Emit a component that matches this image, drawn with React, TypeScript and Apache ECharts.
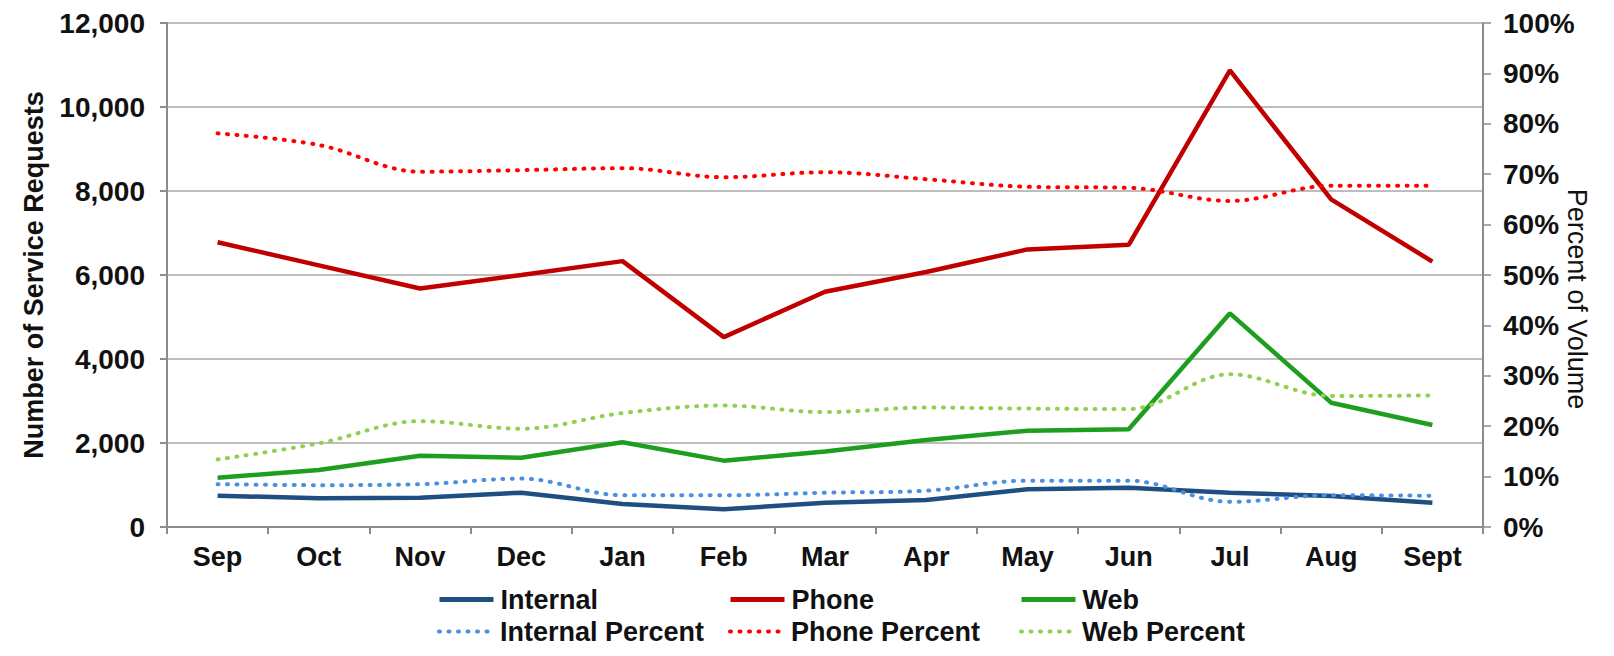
import React, { useEffect, useRef } from "react";
import * as echarts from "echarts";

const months = ["Sep", "Oct", "Nov", "Dec", "Jan", "Feb", "Mar", "Apr", "May", "Jun", "Jul", "Aug", "Sept"];
const countTicks = [0, 2000, 4000, 6000, 8000, 10000, 12000];
const internalCount = [746, 683, 698, 817, 548, 421, 579, 643, 897, 937, 817, 738, 579];
const phoneCount = [6780, 6230, 5680, 6000, 6330, 4520, 5600, 6070, 6610, 6720, 10870, 7800, 6320];
const webCount = [1175, 1357, 1698, 1651, 2016, 1580, 1800, 2071, 2293, 2325, 5087, 2960, 2429];
const internalPct = [8.5, 8.3, 8.5, 9.6, 6.3, 6.3, 6.8, 7.2, 9.2, 9.2, 5.0, 6.3, 6.2];
const phonePct = [78.1, 75.8, 70.5, 70.8, 71.2, 69.4, 70.4, 69.0, 67.5, 67.3, 64.7, 67.7, 67.7];
const webPct = [13.4, 16.6, 21.0, 19.5, 22.6, 24.1, 22.8, 23.7, 23.5, 23.4, 30.3, 26.0, 26.1];

const FONT = "'Liberation Sans', Arial, Helvetica, sans-serif";

export default function App() {
  const ref = useRef<HTMLDivElement>(null);
  useEffect(() => {
    if (!ref.current) return;
    const chart = echarts.init(ref.current, undefined, { renderer: "svg" });
    const solid = (name: string, data: number[], color: string) => ({
      name,
      type: "line",
      data,
      yAxisIndex: 0,
      symbol: "none",
      smooth: false,
      lineStyle: { color, width: 4.5 },
      itemStyle: { color },
    });
    const dotted = (name: string, data: number[], color: string) => ({
      name,
      type: "line",
      data,
      yAxisIndex: 1,
      symbol: "none",
      smooth: 0.35,
      lineStyle: { color, width: 4, type: [1, 8.5], cap: "round" },
      itemStyle: { color },
    });
    const legendItem = (name: string, left: number, top: number, lw: number) => ({
      data: [name],
      left,
      top,
      padding: 0,
      itemWidth: 54,
      itemHeight: 26,
      itemStyle: { opacity: 0 },
      lineStyle: { width: lw },
      textStyle: {
        fontFamily: FONT,
        fontSize: 27,
        fontWeight: "bold",
        color: "#111",
        padding: [0, 0, 0, 2],
      },
    });
    chart.setOption({
      animation: false,
      backgroundColor: "#ffffff",
      textStyle: { fontFamily: FONT },
      grid: { left: 167, right: 131, top: 23, bottom: 129, containLabel: false },
      legend: [
        legendItem("Internal", 437, 586, 5),
        legendItem("Phone", 728, 586, 5),
        legendItem("Web", 1019, 586, 5),
        legendItem("Internal Percent", 437, 618, 4),
        legendItem("Phone Percent", 728, 618, 4),
        legendItem("Web Percent", 1019, 618, 4),
      ],
      graphic: [
        {
          type: "text",
          x: 1577,
          y: 299,
          rotation: -Math.PI / 2,
          style: {
            text: "Percent of Volume",
            fontFamily: FONT,
            fontSize: 27,
            fill: "#111",
            textAlign: "center",
            textVerticalAlign: "middle",
          },
        },
      ],
      xAxis: {
        type: "category",
        data: months,
        boundaryGap: true,
        axisLine: { lineStyle: { color: "#8c8c8c", width: 2 } },
        axisTick: { show: true, length: 7, lineStyle: { color: "#8c8c8c", width: 2 } },
        axisLabel: { fontFamily: FONT, fontSize: 27, fontWeight: "bold", color: "#111", margin: 16 },
      },
      yAxis: [
        {
          type: "value",
          min: countTicks[0],
          max: countTicks[countTicks.length - 1],
          interval: 2000,
          name: "Number of Service Requests",
          nameLocation: "middle",
          nameRotate: 90,
          nameGap: 120,
          nameTextStyle: { fontFamily: FONT, fontSize: 27, fontWeight: "bold", color: "#111" },
          axisLine: { show: true, lineStyle: { color: "#8c8c8c", width: 2 } },
          axisTick: { show: true, length: 7, lineStyle: { color: "#8c8c8c", width: 2 } },
          splitLine: { show: true, lineStyle: { color: "#bdbdbd", width: 2 } },
          axisLabel: {
            fontFamily: FONT,
            fontSize: 28,
            fontWeight: "bold",
            color: "#111",
            margin: 22,
            formatter: (v: number) => v.toLocaleString("en-US"),
          },
        },
        {
          type: "value",
          position: "right",
          min: 0,
          max: 100,
          interval: 10,
          axisLine: { show: true, lineStyle: { color: "#8c8c8c", width: 2 } },
          axisTick: { show: true, length: 8, lineStyle: { color: "#8c8c8c", width: 1.5 } },
          splitLine: { show: false },
          axisLabel: {
            fontFamily: FONT,
            fontSize: 28,
            fontWeight: "bold",
            color: "#111",
            margin: 20,
            formatter: "{value}%",
          },
        },
      ],
      series: [
        solid("Internal", internalCount, "#1f4e80"),
        solid("Phone", phoneCount, "#c00000"),
        solid("Web", webCount, "#1e9e1e"),
        dotted("Internal Percent", internalPct, "#4a8fe0"),
        dotted("Phone Percent", phonePct, "#ff0000"),
        dotted("Web Percent", webPct, "#8ed14f"),
      ],
    });
    return () => chart.dispose();
  }, []);
  return (
    <div
      ref={ref}
      style={{ position: "fixed", left: 0, top: 0, width: 1614, height: 656, background: "#fff" }}
    />
  );
}
